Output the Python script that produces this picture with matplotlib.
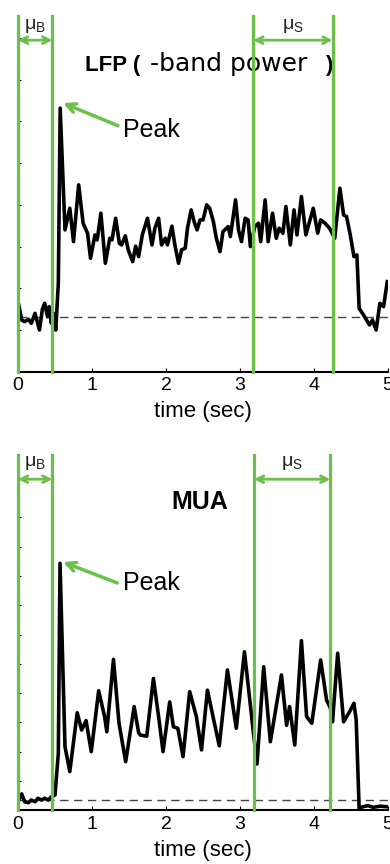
import matplotlib
matplotlib.use("Agg")
import matplotlib.pyplot as plt

plt.rcParams['font.family'] = ['Liberation Sans', 'DejaVu Sans']

# ---------------- data ----------------
lfp_t = [0.01, 0.05, 0.09, 0.14, 0.18, 0.23, 0.29, 0.33, 0.36, 0.40, 0.42, 0.45, 0.48, 0.51,
         0.545, 0.57, 0.635, 0.70, 0.75, 0.82, 0.88, 0.94, 0.98, 1.04, 1.07, 1.12, 1.18,
         1.24, 1.27, 1.32, 1.37, 1.40, 1.45, 1.49, 1.55, 1.59, 1.63, 1.68, 1.75, 1.81,
         1.85, 1.90, 1.94, 1.99, 2.02, 2.08, 2.12, 2.17, 2.21, 2.26, 2.29, 2.34, 2.38,
         2.42, 2.46, 2.50, 2.55, 2.59, 2.64, 2.68, 2.73, 2.77, 2.84, 2.87, 2.94, 2.98,
         3.02, 3.07, 3.11, 3.14, 3.20, 3.25, 3.28, 3.34, 3.38, 3.44, 3.49, 3.53, 3.58,
         3.62, 3.68, 3.73, 3.77, 3.83, 3.89, 3.94, 3.99, 4.05, 4.09, 4.15, 4.21, 4.28,
         4.35, 4.40, 4.44, 4.49, 4.54, 4.58, 4.61, 4.67, 4.71, 4.75, 4.79, 4.84, 4.89,
         4.94, 4.99]
lfp_v = [1.60, 1.24, 1.20, 1.26, 1.16, 1.40, 1.00, 1.50, 1.64, 1.32, 1.56, 1.16, 1.40, 1.00,
         2.12, 6.32, 3.40, 3.92, 3.12, 4.48, 3.56, 3.32, 2.72, 3.28, 3.16, 3.80, 2.60,
         3.20, 3.16, 3.68, 3.08, 3.04, 3.26, 2.92, 2.64, 3.01, 2.76, 3.28, 3.68, 3.04,
         3.44, 3.68, 3.04, 3.20, 3.04, 3.49, 3.04, 2.60, 2.92, 2.96, 3.44, 3.88, 3.60,
         3.40, 3.64, 3.64, 4.00, 3.92, 3.60, 3.20, 2.88, 3.36, 3.48, 3.24, 4.12, 3.40,
         3.12, 3.68, 3.64, 3.00, 3.48, 3.56, 3.12, 4.12, 3.12, 3.80, 3.20, 3.44, 3.32,
         3.96, 3.04, 3.88, 3.28, 4.20, 3.28, 3.60, 3.92, 3.32, 3.64, 3.56, 3.44, 3.20,
         4.40, 3.76, 3.72, 3.28, 2.76, 2.80, 1.52, 1.36, 1.24, 1.12, 1.24, 1.00, 1.64,
         1.56, 2.16]
lfp_baseline = 1.3

mua_t = [0.0, 0.05, 0.09, 0.14, 0.18, 0.23, 0.27, 0.32, 0.36, 0.41, 0.45, 0.50, 0.545,
         0.568, 0.635, 0.70, 0.80, 0.86, 0.92, 0.99, 1.09, 1.17, 1.20, 1.29, 1.365, 1.455,
         1.57, 1.63, 1.65, 1.74, 1.83, 1.90, 1.96, 2.05, 2.10, 2.16, 2.23, 2.32, 2.41,
         2.48, 2.56, 2.64, 2.72, 2.83, 2.95, 3.06, 3.18, 3.23, 3.32, 3.41, 3.56, 3.63,
         3.67, 3.74, 3.83, 3.90, 3.97, 4.09, 4.17, 4.22, 4.25, 4.32, 4.40, 4.48, 4.54,
         4.57, 4.61, 4.66, 4.73, 4.80, 4.89, 5.0]
mua_v = [0.29, 0.56, 0.29, 0.26, 0.35, 0.29, 0.41, 0.35, 0.41, 0.35, 0.46, 0.52, 1.95,
         8.43, 2.17, 1.32, 3.33, 2.74, 3.06, 2.00, 4.08, 3.20, 2.68, 5.15, 2.97, 1.66,
         3.54, 2.65, 2.57, 2.53, 4.50, 3.20, 2.00, 3.70, 2.85, 2.80, 1.83, 4.05, 3.20,
         2.06, 4.10, 3.14, 2.20, 4.79, 2.80, 5.41, 2.68, 1.58, 4.90, 2.34, 4.62, 2.90,
         3.54, 2.23, 5.79, 3.20, 2.97, 5.13, 3.76, 3.50, 3.02, 5.36, 3.02, 3.36, 3.65,
         3.08, 0.07, 0.12, 0.16, 0.10, 0.14, 0.12]
mua_baseline = 0.35

x_ticks = [0, 1, 2, 3, 4, 5]
x_label = "time (sec)"
win_B = [0.0, 0.464]
win_S_lfp = [3.18, 4.25]
win_S_mua = [3.19, 4.22]

GREEN = '#6cbf4b'

fig = plt.figure(figsize=(3.9, 8.64), dpi=100)
ax1 = fig.add_axes([18/390, (864-371.7)/864, 370/390, 355.7/864])
ax2 = fig.add_axes([18/390, (864-810.3)/864, 370/390, 355.3/864])


def style(ax, ytop, yticks):
    ax.set_xlim(0, 5)
    ax.set_ylim(0, ytop)
    for s in ['top', 'right']:
        ax.spines[s].set_visible(False)
    ax.spines['bottom'].set_linewidth(1.5)
    ax.spines['left'].set_linewidth(1.0)
    ax.set_xticks(x_ticks)
    ax.set_xticklabels([str(v) for v in x_ticks])
    ax.set_yticks(yticks)
    ax.set_yticklabels([])
    ax.tick_params(axis='x', direction='in', length=3, width=0.8, labelsize=14, pad=4)
    ax.tick_params(axis='y', direction='in', length=2.5, width=0.8)
    ax.set_xlabel(x_label, fontsize=16, labelpad=5)


def windows(ax, wB, wS, y_arrow, y_lab):
    for x in wB + wS:
        ax.axvline(x, ymin=0, ymax=1, color=GREEN, lw=2.3, zorder=4, clip_on=False)
    for (a, b), lab in [(wB, r'$\mathregular{\mu_B}$'), (wS, r'$\mathregular{\mu_S}$')]:
        ax.annotate('', xy=(b, y_arrow), xytext=(a, y_arrow),
                    arrowprops=dict(arrowstyle='<->', color=GREEN, lw=2,
                                    mutation_scale=12, shrinkA=0, shrinkB=0),
                    annotation_clip=False, zorder=5)
        ax.text((a + b) / 2, y_lab, lab, ha='center', va='center', fontsize=14,
                color='#222222')


# ---------------- LFP panel ----------------
style(ax1, 355.7/41.7, [1, 2, 3, 4, 5, 6, 7, 8])
ax1.plot(lfp_t, lfp_v, color='black', lw=2.6, zorder=3, solid_joinstyle='round')
ax1.axhline(lfp_baseline, color='#444444', lw=1, ls=(0, (6, 4)), zorder=2)
windows(ax1, win_B, win_S_lfp, 7.95, 8.3)
ax1.text(0.905, 7.21, 'LFP (', fontsize=16, fontweight='bold', ha='left', va='baseline')
ax1.text(1.78, 7.21, '-band power', fontsize=18, ha='left', va='baseline',
         family=['DejaVu Sans'])
ax1.text(4.15, 7.21, ')', fontsize=16, fontweight='bold', ha='left', va='baseline')
ax1.text(1.42, 5.64, 'Peak', fontsize=18, ha='left', va='baseline')
ax1.annotate('', xy=(0.61, 6.44), xytext=(1.35, 5.9),
             arrowprops=dict(arrowstyle='->', color=GREEN, lw=2.5, mutation_scale=16,
                             shrinkA=0, shrinkB=0))

# ---------------- MUA panel ----------------
style(ax2, 355.3/29.3, [1, 2, 3, 4, 5, 6, 7, 8, 9, 10])
ax2.plot(mua_t, mua_v, color='black', lw=2.6, zorder=3, solid_joinstyle='round')
ax2.axhline(mua_baseline, color='#444444', lw=1, ls=(0, (6, 4)), zorder=2)
windows(ax2, win_B, win_S_mua, 11.3, 11.87)
ax2.text(2.45, 10.3, 'MUA', fontsize=18, fontweight='bold', ha='center', va='baseline')
ax2.text(1.42, 7.52, 'Peak', fontsize=18, ha='left', va='baseline')
ax2.annotate('', xy=(0.61, 8.47), xytext=(1.34, 7.76),
             arrowprops=dict(arrowstyle='->', color=GREEN, lw=2.5, mutation_scale=16,
                             shrinkA=0, shrinkB=0))

fig.savefig('out.png', dpi=100)
